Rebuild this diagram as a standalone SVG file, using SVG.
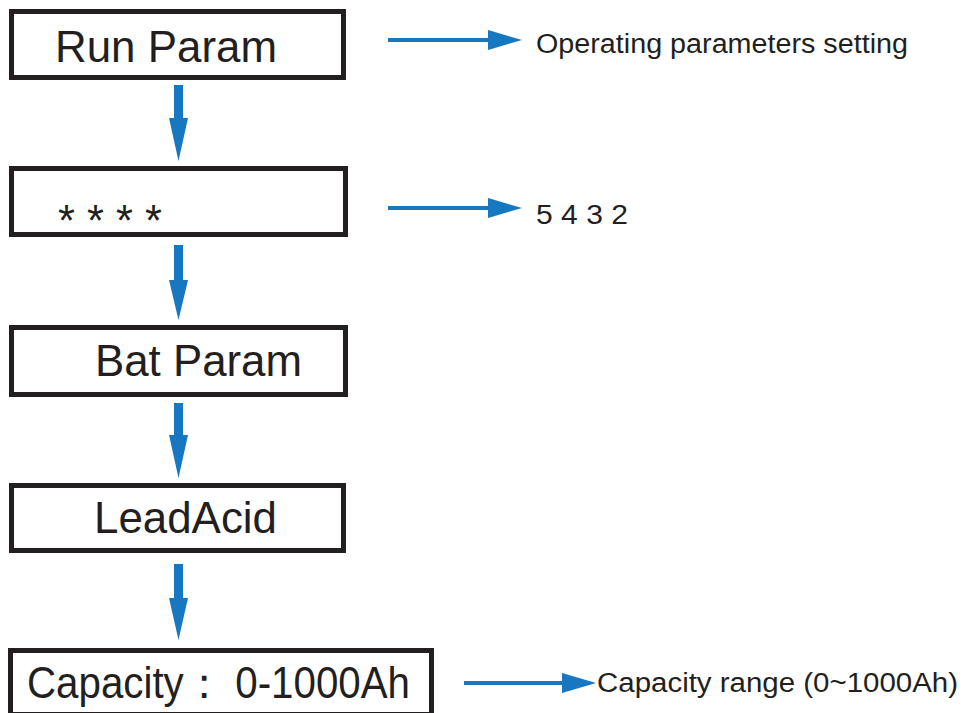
<svg xmlns="http://www.w3.org/2000/svg" width="963" height="713" viewBox="0 0 963 713">
<style>
.box{fill:#fff;stroke:#231f20;stroke-width:5}
.bt{font-family:"Liberation Sans",Arial,sans-serif;font-size:44px;fill:#231f20}
.lt{font-family:"Liberation Sans",Arial,sans-serif;font-size:27px;fill:#231f20}
.ar{fill:#1777c0}
.sh{stroke:#1777c0;stroke-width:4}
</style>
<rect width="963" height="713" fill="#fff"/>
<g id="n1"><rect class="box" x="11.5" y="11.5" width="332" height="66"/><text class="bt" x="55" y="62" textLength="222" lengthAdjust="spacingAndGlyphs">Run Param</text></g>
<g id="n2"><rect class="box" x="11.5" y="168.5" width="334" height="66"/><text class="bt" x="58" y="236" textLength="104" lengthAdjust="spacingAndGlyphs">* * * *</text></g>
<g id="n3"><rect class="box" x="11.5" y="327.5" width="334" height="67"/><text class="bt" x="95" y="376" textLength="207" lengthAdjust="spacingAndGlyphs">Bat Param</text></g>
<g id="n4"><rect class="box" x="11.5" y="485.5" width="332" height="65"/><text class="bt" x="94" y="533" textLength="183" lengthAdjust="spacingAndGlyphs">LeadAcid</text></g>
<g id="n5"><rect class="box" x="10.5" y="650.5" width="421" height="64"/><text class="bt" x="27" y="698" textLength="383" lengthAdjust="spacingAndGlyphs">Capacity：  0-1000Ah</text></g>
<g id="l1"><text class="lt" x="536" y="53" textLength="372" lengthAdjust="spacingAndGlyphs">Operating parameters setting</text></g>
<g id="l2"><text class="lt" x="536" y="224" textLength="92" lengthAdjust="spacingAndGlyphs">5 4 3 2</text></g>
<g id="l3"><text class="lt" x="597" y="692" textLength="361" lengthAdjust="spacingAndGlyphs">Capacity range (0~1000Ah)</text></g>
<g id="connectors">
<rect class="ar" x="174" y="85" width="9" height="34"/><polygon class="ar" points="169,118 188,118 178.5,161"/>
<rect class="ar" x="174" y="245" width="9" height="36"/><polygon class="ar" points="169,280 188,280 178.5,320"/>
<rect class="ar" x="174" y="403" width="9" height="33"/><polygon class="ar" points="169,435 188,435 178.5,478"/>
<rect class="ar" x="174" y="564" width="9" height="35"/><polygon class="ar" points="169,598 188,598 178.5,640"/>
<line class="sh" x1="388" y1="40" x2="490" y2="40"/><polygon class="ar" points="488,30 522,40 488,50"/>
<line class="sh" x1="388" y1="208" x2="490" y2="208"/><polygon class="ar" points="488,198 522,208 488,218"/>
<line class="sh" x1="464" y1="683" x2="566" y2="683"/><polygon class="ar" points="562,673 596,683 562,693"/>
</g>
</svg>
